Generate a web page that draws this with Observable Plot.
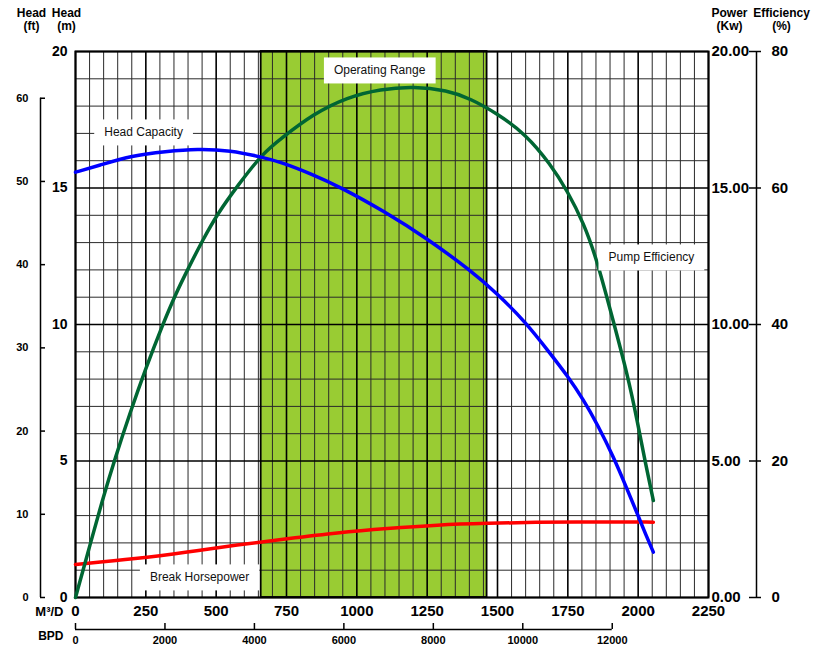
<!DOCTYPE html>
<html><head><meta charset="utf-8">
<script src="https://cdn.jsdelivr.net/npm/d3@7"></script>
<script src="https://cdn.jsdelivr.net/npm/@observablehq/plot@0.6"></script>
<style>
body{margin:0;background:#fff;}
#chart svg{display:block;}
</style></head><body><div id="chart"></div>
<script>
// ---- data (flow in m3/d) ----
const headQ = [0, 82, 201, 320, 433, 551, 664, 729, 835, 942, 1095, 1250, 1404, 1499, 1600, 1688, 1748, 1807, 1854, 1913, 1961, 1997, 2026, 2054];
const headM = [15.58, 15.82, 16.19, 16.34, 16.44, 16.38, 16.13, 15.95, 15.53, 15.03, 14.16, 13.15, 11.98, 11.13, 10.09, 8.93, 8.13, 7.22, 6.36, 5.14, 3.96, 3.07, 2.33, 1.66];

const effQ = [0, 53, 95, 142, 195, 249, 308, 355, 403, 450, 504, 581, 664, 729, 847, 966, 1084, 1203, 1321, 1404, 1499, 1600, 1688, 1748, 1807, 1854, 1914, 1961, 1997, 2026, 2054];
const effPct = [0, 7.9, 14.2, 20.6, 27.2, 33.5, 39.8, 44.4, 48.4, 52.2, 56.2, 60.6, 65.0, 67.2, 70.9, 73.3, 74.5, 74.9, 74.3, 73.1, 70.9, 67.9, 63.5, 59.6, 54.8, 49.4, 40.1, 32.8, 25.9, 19.6, 14.2];

const powQ = [0, 219, 397, 575, 752, 930, 1108, 1286, 1463, 1641, 1789, 1900, 2054];
const powKw = [1.21, 1.42, 1.66, 1.93, 2.15, 2.37, 2.53, 2.66, 2.72, 2.76, 2.77, 2.77, 2.76];

const operatingRange = [660, 1463];

// ---- ticks ----
const mTicks = [0, 5, 10, 15, 20];
const ftTicks = [0, 10, 20, 30, 40, 50, 60];
const qTicks = [0, 250, 500, 750, 1000, 1250, 1500, 1750, 2000, 2250];
const bpdTicks = [0, 2000, 4000, 6000, 8000, 10000, 12000];
const effTickLabels = [0, 20, 40, 60, 80];
const BPD_PER_M3 = 6.2898;
const M_PER_FT = 0.3048;

// ---- callouts ----
const calloutText = ["Operating Range", "Head Capacity", "Pump Efficiency", "Break Horsepower"];
const calloutQ = [1081, 242, 2047, 441];
const calloutH = [19.3, 17.03, 12.45, 0.73];

const head = headQ.map((q, i) => ({q, v: headM[i]}));
const eff = effQ.map((q, i) => ({q, v: effPct[i] / 4}));
const pow = powQ.map((q, i) => ({q, v: powKw[i]}));
const callouts = calloutText.map((t, i) => ({t, q: calloutQ[i], h: calloutH[i]}));

const gridQ = d3.range(0, 2251, 50).filter(d => d % 250 !== 0);
const gridH = d3.range(0, 21, 1).filter(d => d % 5 !== 0);
const FONT = "Arial, 'Liberation Sans', Helvetica, sans-serif";
const hdr = {lineAnchor: "top", textAnchor: "middle", fontSize: 12, fontWeight: "bold", lineHeight: 1.1};

const plot = Plot.plot({
  width: 817, height: 654,
  marginTop: 51, marginBottom: 57, marginLeft: 75, marginRight: 109,
  x: {domain: [0, 2250], axis: null},
  y: {domain: [0, 20], axis: null},
  style: {fontFamily: FONT, background: "white", color: "black", overflow: "visible"},
  marks: [
    Plot.rect([operatingRange], {x1: d => d[0], x2: d => d[1], y1: 0, y2: 20, fill: "#99cc33"}),
    Plot.ruleX(gridQ, {stroke: "#2a2a2a", strokeWidth: 1}),
    Plot.ruleY(gridH, {stroke: "#2a2a2a", strokeWidth: 1}),
    Plot.ruleX(qTicks, {stroke: "#000", strokeWidth: 1.6}),
    Plot.ruleY(mTicks, {stroke: "#000", strokeWidth: 1.6}),
    Plot.rect([operatingRange], {x1: d => d[0], x2: d => d[1], y1: 0, y2: 20, fill: "none", stroke: "#000", strokeWidth: 1.8}),
    Plot.frame({stroke: "#000", strokeWidth: 2}),

    // curves
    Plot.line(pow, {x: "q", y: "v", stroke: "#ff0000", strokeWidth: 3.5, curve: "basis"}),
    Plot.line(eff, {x: "q", y: "v", stroke: "#006633", strokeWidth: 3.5, curve: "basis"}),
    Plot.line(head, {x: "q", y: "v", stroke: "#0000ff", strokeWidth: 3.5, curve: "basis"}),

    // left: head (m)
    Plot.axisY(mTicks, {anchor: "left", label: null, tickSize: 0, tickPadding: 8, fontSize: 14, fontWeight: "bold"}),
    // left: head (ft)
    Plot.ruleX([0], {y1: 0, y2: 60 * M_PER_FT, dx: -35, stroke: "#000", strokeWidth: 1.5}),
    Plot.ruleY(ftTicks, {y: d => d * M_PER_FT, x1: 0, x2: 0, dx: -35, insetRight: -5, stroke: "#000", strokeWidth: 1.5}),
    Plot.axisY(ftTicks.map(d => d * M_PER_FT), {anchor: "left", label: null, tickSize: 0, tickPadding: 12, dx: -35, fontSize: 11, fontWeight: "bold", tickFormat: d => String(Math.round(d / M_PER_FT))}),

    // right: power (kW)
    Plot.axisY(mTicks, {anchor: "right", label: null, tickSize: 0, tickPadding: 3, fontSize: 15, fontWeight: "bold", tickFormat: d => d.toFixed(2)}),
    // right: efficiency (%)
    Plot.ruleX([2250], {dx: 48, stroke: "#000", strokeWidth: 1.5}),
    Plot.ruleY(mTicks, {x1: 2250, x2: 2250, dx: 48, insetLeft: -7, insetRight: -5, stroke: "#000", strokeWidth: 1.5}),
    Plot.axisY(mTicks, {anchor: "right", label: null, tickSize: 0, tickPadding: 15, dx: 48, fontSize: 15, fontWeight: "bold", tickFormat: d => String(effTickLabels[mTicks.indexOf(d)])}),

    // bottom: m3/d
    Plot.axisX(qTicks, {anchor: "bottom", label: null, tickSize: 0, tickPadding: 8, fontSize: 15, fontWeight: "bold", tickFormat: d => String(d)}),
    // bottom: BPD
    Plot.ruleY([0], {x1: 0, x2: 12000 / BPD_PER_M3, dy: 32, stroke: "#000", strokeWidth: 1.5}),
    Plot.ruleX(bpdTicks, {x: d => d / BPD_PER_M3, y1: 0, y2: 0, dy: 32, insetTop: -6, stroke: "#000", strokeWidth: 1.5}),
    Plot.text(bpdTicks, {x: d => d / BPD_PER_M3, y: 0, text: d => String(d), dy: 43, fontSize: 11, fontWeight: "bold"}),

    // axis titles
    Plot.text(["M³/D"], {frameAnchor: "bottom-left", dx: -12, dy: 18, textAnchor: "end", fontSize: 13, fontWeight: "bold"}),
    Plot.text(["BPD"], {frameAnchor: "bottom-left", dx: -12, dy: 42, textAnchor: "end", fontSize: 12, fontWeight: "bold"}),
    Plot.text(["Head\n(ft)"], {frameAnchor: "top-left", dx: -44, dy: -44, ...hdr}),
    Plot.text(["Head\n(m)"], {frameAnchor: "top-left", dx: -9, dy: -44, ...hdr}),
    Plot.text(["Power\n(Kw)"], {frameAnchor: "top-right", dx: 21, dy: -44, ...hdr}),
    Plot.text(["Efficiency\n(%)"], {frameAnchor: "top-right", dx: 73, dy: -44, ...hdr}),

    // callouts
    Plot.text(callouts, {x: "q", y: "h", text: "t", fontSize: 12, fill: "#111"})
  ]
});

document.getElementById("chart").appendChild(plot);

// white boxes behind callout labels
d3.select(plot).selectAll("text").each(function() {
  if (!calloutText.includes(this.textContent)) return;
  const b = this.getBBox();
  const r = document.createElementNS("http://www.w3.org/2000/svg", "rect");
  r.setAttribute("x", b.x - 10);
  r.setAttribute("y", b.y - 6);
  r.setAttribute("width", b.width + 20);
  r.setAttribute("height", b.height + 12);
  r.setAttribute("fill", "white");
  const tr = this.getAttribute("transform");
  if (tr) r.setAttribute("transform", tr);
  this.parentNode.insertBefore(r, this);
});
</script>
</body></html>
